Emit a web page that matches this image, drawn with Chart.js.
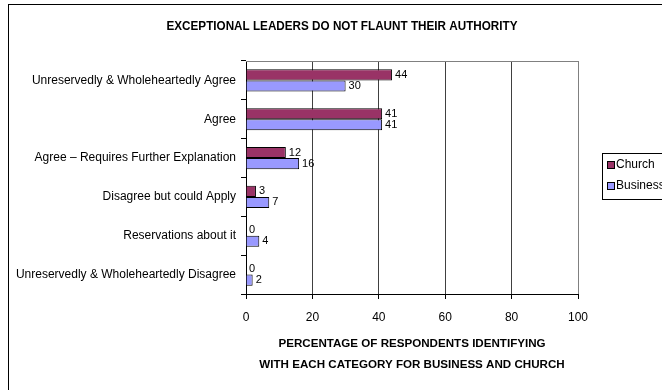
<!DOCTYPE html>
<html>
<head>
<meta charset="utf-8">
<script src="https://cdn.jsdelivr.net/npm/chart.js@4.4.1/dist/chart.umd.min.js"></script>
<style>
html,body{margin:0;padding:0;background:#fff;overflow:hidden;}
#c{display:block;}
</style>
</head>
<body>
<canvas id="c" width="662" height="390"></canvas>
<script>
const categories = [
  "Unreservedly & Wholeheartedly Agree",
  "Agree",
  "Agree \u2013 Requires Further Explanation",
  "Disagree but could Apply",
  "Reservations about it",
  "Unreservedly & Wholeheartedly Disagree"
];
const churchValues = [44, 41, 12, 3, 0, 0];
const businessValues = [30, 41, 16, 7, 4, 2];
const seriesNames = ["Church", "Business"];
const chartTitle = "EXCEPTIONAL LEADERS DO NOT FLAUNT THEIR AUTHORITY";
const axisTitle = ["PERCENTAGE OF RESPONDENTS IDENTIFYING", "WITH EACH CATEGORY FOR BUSINESS AND CHURCH"];
const xTicks = [0, 20, 40, 60, 80, 100];

const COL_CHURCH = "#993366";
const COL_BUSINESS = "#9999FF";

const decorPlugin = {
  id: "decor",
  beforeDraw(chart) {
    const ctx = chart.ctx;
    ctx.save();
    ctx.fillStyle = "#fff";
    ctx.fillRect(0, 0, chart.width, chart.height);
    // outer border
    ctx.strokeStyle = "#000";
    ctx.lineWidth = 1;
    ctx.strokeRect(8.5, 4.5, 720, 420);
    // title
    ctx.fillStyle = "#000";
    ctx.font = "bold 12px 'Liberation Sans', Arial, sans-serif";
    ctx.textAlign = "center";
    ctx.textBaseline = "middle";
    ctx.translate(342, 27);
    ctx.scale(0.975, 1);
    ctx.fillText(chartTitle, 0, 0);
    ctx.restore();
  },
  beforeDatasetsDraw(chart) {
    const ctx = chart.ctx;
    const a = chart.chartArea;
    ctx.save();
    ctx.strokeStyle = "#808080";
    ctx.lineWidth = 1;
    ctx.beginPath();
    ctx.moveTo(a.left, Math.round(a.top) + 0.5);
    ctx.lineTo(a.right + 0.5, Math.round(a.top) + 0.5);
    ctx.lineTo(a.right + 0.5, a.bottom);
    ctx.stroke();
    ctx.restore();
  },
  afterDraw(chart) {
    const ctx = chart.ctx;
    ctx.save();
    // data labels
    ctx.fillStyle = "#000";
    ctx.font = "11px 'Liberation Sans', Arial, sans-serif";
    ctx.textAlign = "left";
    ctx.textBaseline = "middle";
    chart.data.datasets.forEach((ds, di) => {
      const meta = chart.getDatasetMeta(di);
      meta.data.forEach((el, i) => {
        ctx.fillText(String(ds.data[i]), el.x + 3, el.y);
      });
    });
    // legend
    const lx = 602, ly = 153;
    ctx.strokeStyle = "#000";
    ctx.lineWidth = 1;
    ctx.fillStyle = "#fff";
    ctx.fillRect(lx + 0.5, ly + 0.5, 120, 46);
    ctx.strokeRect(lx + 0.5, ly + 0.5, 120, 46);
    ctx.font = "12px 'Liberation Sans', Arial, sans-serif";
    chart.data.datasets.forEach((ds, di) => {
      const cy = 165 + di * 21;
      ctx.fillStyle = ds.backgroundColor;
      ctx.fillRect(607.5, cy - 3.5, 7, 7);
      ctx.strokeStyle = "#000";
      ctx.strokeRect(607.5, cy - 3.5, 7, 7);
      ctx.fillStyle = "#000";
      ctx.fillText(ds.label, 616, cy);
    });
    ctx.restore();
  }
};

new Chart(document.getElementById("c"), {
  type: "bar",
  data: {
    labels: categories,
    datasets: [
      { label: seriesNames[0], data: churchValues, backgroundColor: COL_CHURCH, borderColor: "#000", borderWidth: 1 },
      { label: seriesNames[1], data: businessValues, backgroundColor: COL_BUSINESS, borderColor: "#000", borderWidth: 1 }
    ]
  },
  options: {
    indexAxis: "y",
    responsive: false,
    animation: false,
    devicePixelRatio: 1,
    layout: { padding: { left: 0, right: 84, top: 61, bottom: 0 } },
    datasets: { bar: { categoryPercentage: 0.57, barPercentage: 1.0 } },
    plugins: {
      legend: { display: false },
      title: { display: false },
      tooltip: { enabled: false }
    },
    scales: {
      x: {
        min: 0, max: 100,
        afterBuildTicks(scale) { scale.ticks = xTicks.map(v => ({ value: v })); },
        afterFit(scale) { scale.height = 96; },
        border: { color: "#000", width: 1 },
        grid: {
          color: ctx => (ctx.index === 0 ? "#000" : (ctx.index === xTicks.length - 1 ? "#808080" : "#404040")),
          tickColor: "#000",
          tickLength: 5,
          drawOnChartArea: true
        },
        ticks: {
          color: "#000",
          padding: 11,
          font: { family: "'Liberation Sans', Arial, sans-serif", size: 12 }
        },
        title: {
          display: true,
          text: axisTitle,
          color: "#000",
          padding: { top: 0, bottom: 14.5 },
          font: { family: "'Liberation Sans', Arial, sans-serif", size: 11.6, weight: "bold", lineHeight: "21px" }
        }
      },
      y: {
        afterFit(scale) { scale.width = 246; },
        border: { color: "#000", width: 1 },
        grid: {
          offset: true,
          drawOnChartArea: false,
          color: "#000",
          tickColor: "#000",
          tickLength: 5
        },
        ticks: {
          color: "#000",
          padding: 5,
          font: { family: "'Liberation Sans', Arial, sans-serif", size: 12 }
        }
      }
    }
  },
  plugins: [decorPlugin]
});
</script>
</body>
</html>
